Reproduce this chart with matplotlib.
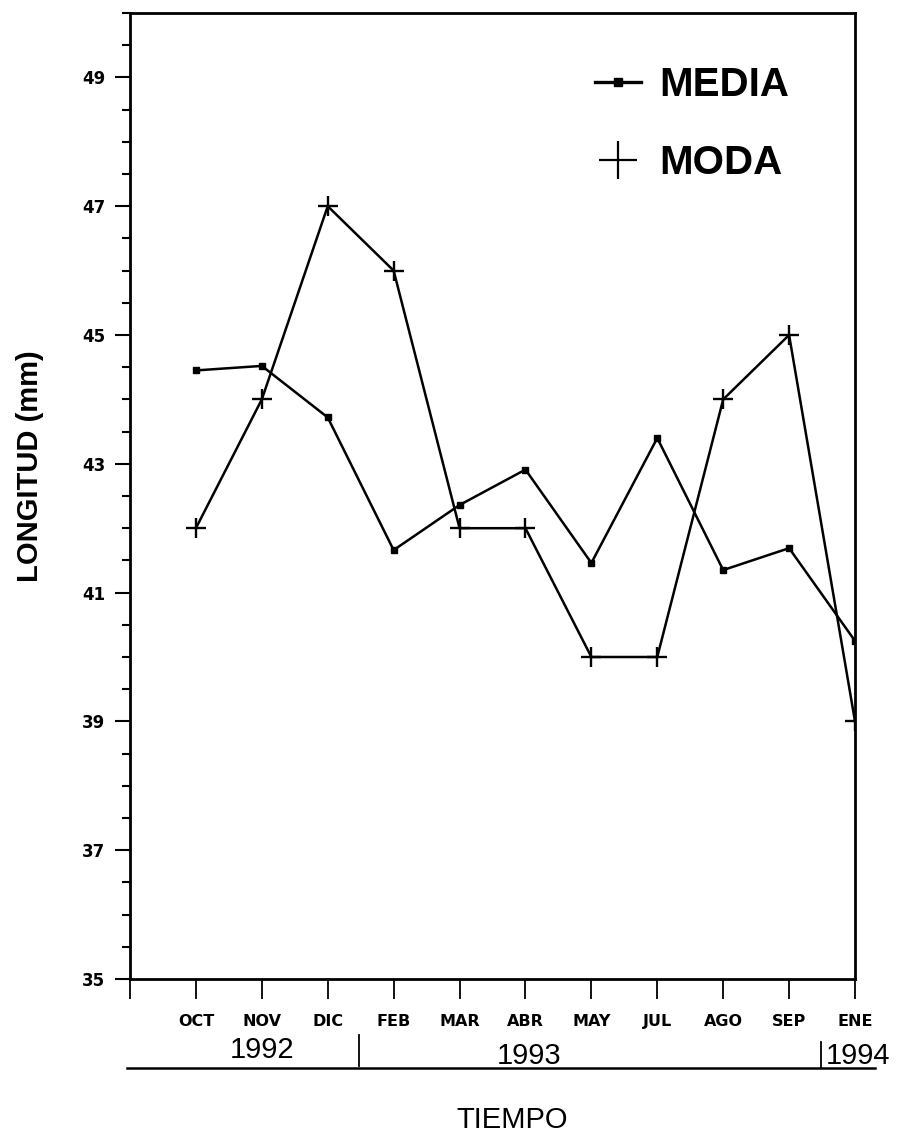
import matplotlib
matplotlib.use("Agg")
import matplotlib.pyplot as plt
from matplotlib.lines import Line2D
from matplotlib.transforms import blended_transform_factory
import numpy as np

# ---- data ----
months = ["OCT", "NOV", "DIC", "FEB", "MAR", "ABR", "MAY", "JUL", "AGO", "SEP", "ENE"]
media = [44.45, 44.52, 43.72, 41.66, 42.36, 42.91, 41.46, 43.40, 41.35, 41.69, 40.25]
moda = [42, 44, 47, 46, 42, 42, 40, 40, 44, 45, 39]
years = ["1992", "1993", "1994"]
y_major = [35, 37, 39, 41, 43, 45, 47, 49]

W, H = 898, 1132
fig = plt.figure(figsize=(W / 100, H / 100), dpi=100)
ax = fig.add_axes([130 / W, (H - 979) / H, 725 / W, 966 / H])

x = np.arange(1, len(months) + 1)
ax.plot(x, media, color="black", lw=1.8, marker="s", ms=4.5, mfc="black", mec="black")
ax.plot(x, moda, color="black", lw=1.8, marker="+", ms=15, mew=1.7)

ax.set_xlim(0, len(months))
ax.set_ylim(35, 50)

for s in ax.spines.values():
    s.set_linewidth(2)

# y ticks
ax.set_yticks(y_major)
ax.set_yticklabels([str(v) for v in y_major], fontfamily="DejaVu Sans",
                   fontweight="bold", fontsize=12)
ax.set_yticks(np.arange(35, 50.01, 0.5), minor=True)
ax.tick_params(axis="y", which="major", direction="out", length=10.8, width=1.5, pad=7)
ax.tick_params(axis="y", which="minor", direction="out", length=5.8, width=1.5)

# x ticks
ax.set_xticks(np.arange(0, len(months) + 1))
ax.set_xticklabels([""] + months, fontfamily="DejaVu Sans", fontweight="bold", fontsize=11.5)
ax.tick_params(axis="x", which="major", direction="out", length=14.4, width=1.3, pad=10.5)
ax.tick_params(axis="x", which="minor", length=0)

# year annotations below axis
tr = blended_transform_factory(ax.transData, fig.transFigure)
def fy(py):
    return (H - py) / H

ax.text(2.0, fy(1058), years[0], transform=tr, ha="center", va="baseline",
        fontfamily="Liberation Sans", fontsize=21)
ax.text(6.05, fy(1064), years[1], transform=tr, ha="center", va="baseline",
        fontfamily="Liberation Sans", fontsize=21)
ax.text(10.56, fy(1064), years[2], transform=tr, ha="left", va="baseline",
        fontfamily="Liberation Sans", fontsize=21)

# divider lines and underline
fig.add_artist(Line2D([359 / W, 359 / W], [fy(1035), fy(1066)], color="black", lw=1.3))
fig.add_artist(Line2D([821 / W, 821 / W], [fy(1042), fy(1068)], color="black", lw=1.3))
fig.add_artist(Line2D([127 / W, 875 / W], [fy(1068), fy(1068)], color="black", lw=1.8))

# axis titles
fig.text(512 / W, fy(1128), "TIEMPO", ha="center", va="baseline",
         fontfamily="Liberation Sans", fontsize=21)
fig.text(30 / W, fy(466), "LONGITUD (mm)", ha="center", va="center", rotation=90,
         fontfamily="Liberation Sans", fontweight="bold", fontsize=21)

# legend
h1 = Line2D([], [], color="black", lw=2.4, marker="s", ms=6)
h2 = Line2D([], [], color="black", lw=0, marker="+", ms=28, mew=1.6)
leg = ax.legend([h1, h2], ["MEDIA", "MODA"], loc="upper left",
                bbox_to_anchor=((595 - 130) / 725, (979 - 66) / 966),
                frameon=False, borderpad=0, borderaxespad=0,
                handlelength=1.15, handletextpad=0.45, labelspacing=1.0,
                prop={"family": "Liberation Sans", "weight": "bold", "size": 29})

fig.savefig("out.png", dpi=100)
